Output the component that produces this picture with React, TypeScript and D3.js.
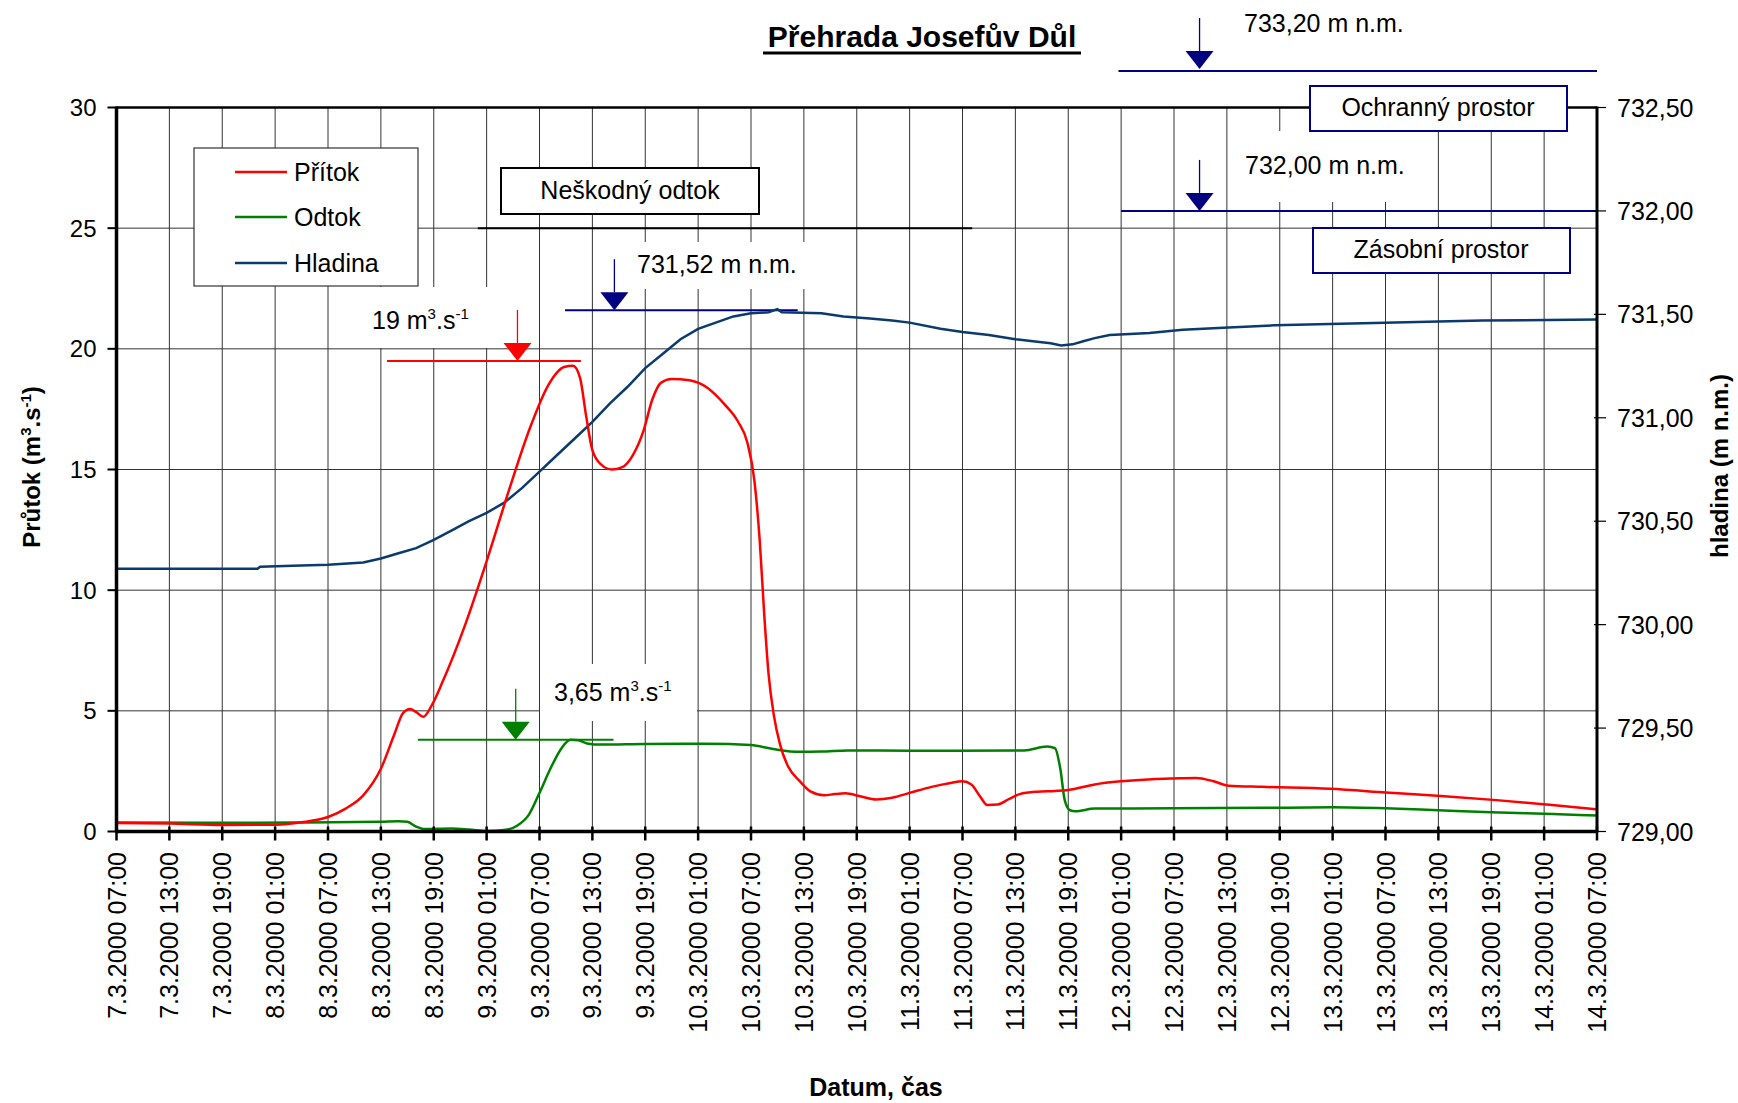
import React from 'react';
import * as d3 from 'd3';

// ---------- data ----------
const tickHours = [0, 6, 12, 18, 24, 30, 36, 42, 48, 54, 60, 66, 72, 78, 84, 90, 96, 102, 108, 114, 120, 126, 132, 138, 144, 150, 156, 162, 168];
const tickLabels = [
  '7.3.2000 07:00', '7.3.2000 13:00', '7.3.2000 19:00',
  '8.3.2000 01:00', '8.3.2000 07:00', '8.3.2000 13:00', '8.3.2000 19:00',
  '9.3.2000 01:00', '9.3.2000 07:00', '9.3.2000 13:00', '9.3.2000 19:00',
  '10.3.2000 01:00', '10.3.2000 07:00', '10.3.2000 13:00', '10.3.2000 19:00',
  '11.3.2000 01:00', '11.3.2000 07:00', '11.3.2000 13:00', '11.3.2000 19:00',
  '12.3.2000 01:00', '12.3.2000 07:00', '12.3.2000 13:00', '12.3.2000 19:00',
  '13.3.2000 01:00', '13.3.2000 07:00', '13.3.2000 13:00', '13.3.2000 19:00',
  '14.3.2000 01:00', '14.3.2000 07:00',
];
const leftTicks = [0, 5, 10, 15, 20, 25, 30];
const rightTicks = [729, 729.5, 730, 730.5, 731, 731.5, 732, 732.5];

// hours since 7.3.2000 07:00
const pritokHours = [0, 6, 12, 18, 21, 24, 26, 28, 30, 31.5, 32.5, 33.3, 34, 34.8, 35.8, 37, 39.5, 42, 44.5, 47, 49, 50.8, 51.8, 52.6, 53.3, 54, 55, 56.2, 57.4, 58.6, 59.8, 60.8, 61.8, 63, 65, 67, 69, 70.5, 71.6, 72.4, 73, 73.5, 74, 74.6, 75.3, 76.2, 77.5, 78.8, 80.3, 81.5, 82.7, 84.5, 86.2, 88, 90, 92.5, 94.5, 96, 97, 98, 98.8, 100, 101.3, 102.5, 104.5, 106.5, 108, 111, 114, 117.5, 120, 122.5, 124.5, 126.2, 130, 137.7, 144, 150.3, 156.6, 162.9, 168];
const pritokValues = [0.35, 0.33, 0.27, 0.28, 0.38, 0.6, 0.95, 1.5, 2.6, 4.0, 4.9, 5.08, 4.95, 4.75, 5.25, 6.2, 8.5, 11.2, 14.1, 16.8, 18.5, 19.25, 19.3, 18.8, 17.2, 15.8, 15.2, 15.0, 15.1, 15.6, 16.6, 17.9, 18.6, 18.75, 18.7, 18.4, 17.7, 17.0, 16.1, 14.5, 12.0, 9.0, 6.5, 4.8, 3.6, 2.7, 2.1, 1.65, 1.5, 1.55, 1.58, 1.45, 1.33, 1.4, 1.6, 1.85, 2.0, 2.08, 1.95, 1.45, 1.1, 1.12, 1.35, 1.55, 1.65, 1.68, 1.72, 1.95, 2.08, 2.17, 2.2, 2.22, 2.08, 1.9, 1.85, 1.77, 1.62, 1.47, 1.3, 1.1, 0.92];

const odtokHours = [0, 10, 20, 30, 32, 33, 34, 35, 38, 40, 42, 44, 45.5, 46.8, 48, 49.3, 50.5, 51.5, 52.4, 53.4, 55, 60, 67, 72, 74.5, 77.5, 80, 83, 90, 95, 103, 105.6, 106.5, 107.1, 107.6, 108.2, 108.8, 111, 120, 130, 138, 144, 150, 156, 163, 168];
const odtokValues = [0.37, 0.36, 0.37, 0.4, 0.42, 0.4, 0.2, 0.1, 0.12, 0.08, 0.02, 0.06, 0.25, 0.7, 1.6, 2.65, 3.45, 3.8, 3.78, 3.65, 3.6, 3.63, 3.64, 3.58, 3.42, 3.3, 3.31, 3.36, 3.35, 3.35, 3.36, 3.52, 3.45, 2.6, 1.3, 0.88, 0.84, 0.95, 0.96, 0.98, 1.0, 0.96, 0.88, 0.8, 0.72, 0.66];

const hladinaHours = [0, 16, 16.3, 20, 24, 28, 30, 32, 34, 36, 38, 40, 42, 44, 46, 48, 50, 52, 54, 56, 58, 60, 62, 64, 66, 68, 70, 72, 74, 75, 75.5, 80, 82.5, 85.5, 88, 90, 93.5, 96, 99, 102, 104, 106, 107.2, 108.5, 109.7, 111, 112.7, 115, 117.2, 121, 126.2, 131.4, 142.7, 150, 155, 168];
const hladinaValues = [730.27, 730.27, 730.28, 730.285, 730.29, 730.3, 730.32, 730.345, 730.37, 730.41, 730.455, 730.5, 730.54, 730.59, 730.66, 730.74, 730.82, 730.9, 730.98, 731.07, 731.15, 731.24, 731.31, 731.38, 731.43, 731.46, 731.49, 731.505, 731.51, 731.525, 731.51, 731.505, 731.49, 731.48, 731.47, 731.46, 731.43, 731.415, 731.4, 731.38, 731.37, 731.36, 731.35, 731.355, 731.37, 731.385, 731.4, 731.405, 731.41, 731.425, 731.437, 731.447, 731.458, 731.465, 731.47, 731.475];

// annotation values
const pritokMaxMark = 19.5;      // "19 m3.s-1"
const odtokMaxMark = 3.8;        // "3,65 m3.s-1"
const neskodnyOdtok = 25;
const hladinaMax = 731.52;
const zasobniLevel = 732.0;

// ---------- geometry ----------
const W = 1738;
const H = 1103;
const L = 116.5, R = 1597, T = 107.5, B = 831.5;
const FONT = 'Liberation Sans, Arial, Helvetica, sans-serif';
const NAVY = '#000080';
const LINE_BLUE = '#0b3a6e';

const x = d3.scaleLinear().domain([0, 168]).range([L, R]);
const yL = d3.scaleLinear().domain([0, 30]).range([B, T]);
const yR = d3.scaleLinear().domain([729, 732.5]).range([B, T]);

const lineL = d3.line<[number, number]>().x(d => x(d[0])).y(d => yL(d[1])).curve(d3.curveMonotoneX);
const lineR = d3.line<[number, number]>().x(d => x(d[0])).y(d => yR(d[1])).curve(d3.curveLinear);

const zip = (a: number[], b: number[]) => a.map((v, i) => [v, b[i]] as [number, number]);

function Arrow({ cx, tipY, color }: { cx: number; tipY: number; color: string }) {
  const th = 18, tw = 14;
  return (
    <g>
      <line x1={cx} x2={cx} y1={tipY - th - 33} y2={tipY - th} stroke={color} strokeWidth={1.3} />
      <polygon points={`${cx - tw},${tipY - th} ${cx + tw},${tipY - th} ${cx},${tipY}`} fill={color} />
    </g>
  );
}

function Unit({ x0, y0, num }: { x0: number; y0: number; num: string }) {
  return (
    <text x={x0} y={y0} fontSize={25} fontFamily={FONT} fill="#000">
      {num} m<tspan dy={-10} fontSize={15}>3</tspan>
      <tspan dy={10}>.s</tspan>
      <tspan dy={-10} fontSize={15}>-1</tspan>
    </text>
  );
}

export default function App() {
  const pritok = zip(pritokHours, pritokValues);
  const odtok = zip(odtokHours, odtokValues);
  const hladina = zip(hladinaHours, hladinaValues);

  return (
    <svg width={W} height={H} style={{ position: 'absolute', left: 0, top: 0, background: '#fff' }}>
      <rect x={0} y={0} width={W} height={H} fill="#fff" />

      {/* grid */}
      {tickHours.slice(1, -1).map(h => (
        <line key={'vg' + h} x1={x(h)} x2={x(h)} y1={T} y2={B} stroke="#333" strokeWidth={1} />
      ))}
      {leftTicks.slice(1, -1).map(v => (
        <line key={'hg' + v} x1={L} x2={R} y1={yL(v)} y2={yL(v)} stroke="#333" strokeWidth={1} />
      ))}

      {/* white backgrounds behind labels */}
      <rect x={362} y={287} width={150} height={61} fill="#fff" />
      <rect x={540} y={664} width={157} height={57} fill="#fff" />
      <rect x={622} y={242} width={188} height={47} fill="#fff" />
      <rect x={1234} y={131} width={191} height={71} fill="#fff" />

      {/* legend */}
      <rect x={194} y={148} width={224} height={138} fill="#fff" stroke="#333" strokeWidth={1.2} />
      {[
        { label: 'Přítok', color: '#ff0000', y: 172 },
        { label: 'Odtok', color: '#008000', y: 217 },
        { label: 'Hladina', color: LINE_BLUE, y: 263 },
      ].map(e => (
        <g key={e.label}>
          <line x1={235} x2={287} y1={e.y} y2={e.y} stroke={e.color} strokeWidth={2.5} />
          <text x={294} y={e.y + 9} fontSize={25} fontFamily={FONT}>{e.label}</text>
        </g>
      ))}

      {/* Neškodný odtok */}
      <line x1={x(41)} x2={x(97.1)} y1={yL(neskodnyOdtok)} y2={yL(neskodnyOdtok)} stroke="#000" strokeWidth={2} />
      <rect x={501} y={168} width={258} height={46} fill="#fff" stroke="#000" strokeWidth={2} />
      <text x={630} y={199} fontSize={25} fontFamily={FONT} textAnchor="middle">Neškodný odtok</text>

      {/* 19 m3.s-1 */}
      <line x1={x(30.7)} x2={x(52.7)} y1={yL(pritokMaxMark)} y2={yL(pritokMaxMark)} stroke="#ff0000" strokeWidth={2} />
      <Arrow cx={x(45.5)} tipY={yL(pritokMaxMark)} color="#ff0000" />
      <Unit x0={372} y0={329} num="19" />

      {/* 3,65 m3.s-1 */}
      <line x1={x(34.2)} x2={x(56.4)} y1={yL(odtokMaxMark)} y2={yL(odtokMaxMark)} stroke="#008000" strokeWidth={2} />
      <Arrow cx={x(45.3)} tipY={yL(odtokMaxMark)} color="#008000" />
      <Unit x0={554} y0={701} num="3,65" />

      {/* 731,52 */}
      <line x1={x(50.9)} x2={x(77.3)} y1={yR(hladinaMax)} y2={yR(hladinaMax)} stroke={NAVY} strokeWidth={2} />
      <Arrow cx={x(56.5)} tipY={yR(hladinaMax)} color={NAVY} />
      <text x={637} y={273} fontSize={25} fontFamily={FONT}>731,52 m n.m.</text>

      {/* 732,00 */}
      <line x1={x(114)} x2={R} y1={yR(zasobniLevel)} y2={yR(zasobniLevel)} stroke={NAVY} strokeWidth={2} />
      <Arrow cx={x(122.9)} tipY={yR(zasobniLevel)} color={NAVY} />
      <text x={1245} y={174} fontSize={25} fontFamily={FONT}>732,00 m n.m.</text>
      <rect x={1313} y={228} width={257} height={45} fill="#fff" stroke={NAVY} strokeWidth={2} />
      <text x={1441} y={258} fontSize={25} fontFamily={FONT} textAnchor="middle">Zásobní prostor</text>

      {/* series */}
      <path d={lineR(hladina) || ''} fill="none" stroke={LINE_BLUE} strokeWidth={2.5} />
      <path d={lineL(odtok) || ''} fill="none" stroke="#008000" strokeWidth={2.5} />
      <path d={lineL(pritok) || ''} fill="none" stroke="#ff0000" strokeWidth={2.5} />

      {/* frame / axes */}
      <line x1={L} x2={R} y1={T} y2={T} stroke="#000" strokeWidth={2.5} />
      <line x1={L} x2={L} y1={T - 1} y2={B + 1} stroke="#000" strokeWidth={3.5} />
      <line x1={R} x2={R} y1={T - 1} y2={B + 1} stroke="#000" strokeWidth={3} />
      <line x1={L - 1} x2={R + 1} y1={B} y2={B} stroke="#000" strokeWidth={3.5} />

      {/* left ticks */}
      {leftTicks.map(v => (
        <g key={'lt' + v}>
          <line x1={L - 9} x2={L} y1={yL(v)} y2={yL(v)} stroke="#000" strokeWidth={2} />
          <text x={L - 20} y={yL(v)} dy="0.36em" fontSize={24} fontFamily={FONT} textAnchor="end">{v}</text>
        </g>
      ))}
      {/* right ticks */}
      {rightTicks.map(v => (
        <g key={'rt' + v}>
          <line x1={R - 3} x2={R + 9} y1={yR(v)} y2={yR(v)} stroke="#000" strokeWidth={1.2} />
          <text x={R + 20} y={yR(v)} dy="0.36em" fontSize={25} fontFamily={FONT}>{v.toFixed(2).replace('.', ',')}</text>
        </g>
      ))}
      {/* bottom ticks */}
      {tickHours.map((h, i) => (
        <g key={'bt' + h}>
          <line x1={x(h)} x2={x(h)} y1={B - 5} y2={B + 9} stroke="#000" strokeWidth={2.5} />
          <text transform={`translate(${x(h)},852) rotate(-90)`} dy="0.36em" fontSize={25} fontFamily={FONT} textAnchor="end">{tickLabels[i]}</text>
        </g>
      ))}

      {/* Ochranný prostor + 733,20 (above plot) */}
      <line x1={x(113.7)} x2={R} y1={71} y2={71} stroke={NAVY} strokeWidth={2} />
      <Arrow cx={x(122.9)} tipY={69} color={NAVY} />
      <text x={1244} y={32} fontSize={25} fontFamily={FONT}>733,20 m n.m.</text>
      <rect x={1310} y={86} width={257} height={45} fill="#fff" stroke={NAVY} strokeWidth={2} />
      <text x={1438} y={116} fontSize={25} fontFamily={FONT} textAnchor="middle">Ochranný prostor</text>

      {/* title */}
      <text x={922} y={47} fontSize={30} fontWeight="bold" fontFamily={FONT} textAnchor="middle">Přehrada Josefův Důl</text>
      <line x1={763} x2={1081} y1={53} y2={53} stroke="#000" strokeWidth={3} />

      {/* axis titles */}
      <text transform="translate(31,467) rotate(-90)" dy="0.36em" fontSize={24} fontWeight="bold" fontFamily={FONT} textAnchor="middle">
        Průtok (m<tspan dy={-9} fontSize={15}>3</tspan><tspan dy={9}>.s</tspan><tspan dy={-9} fontSize={15}>-1</tspan><tspan dy={9}>)</tspan>
      </text>
      <text transform="translate(1719,466) rotate(-90)" dy="0.36em" fontSize={24} fontWeight="bold" fontFamily={FONT} textAnchor="middle">hladina (m n.m.)</text>
      <text x={876} y={1096} fontSize={25} fontWeight="bold" fontFamily={FONT} textAnchor="middle">Datum, čas</text>
    </svg>
  );
}
